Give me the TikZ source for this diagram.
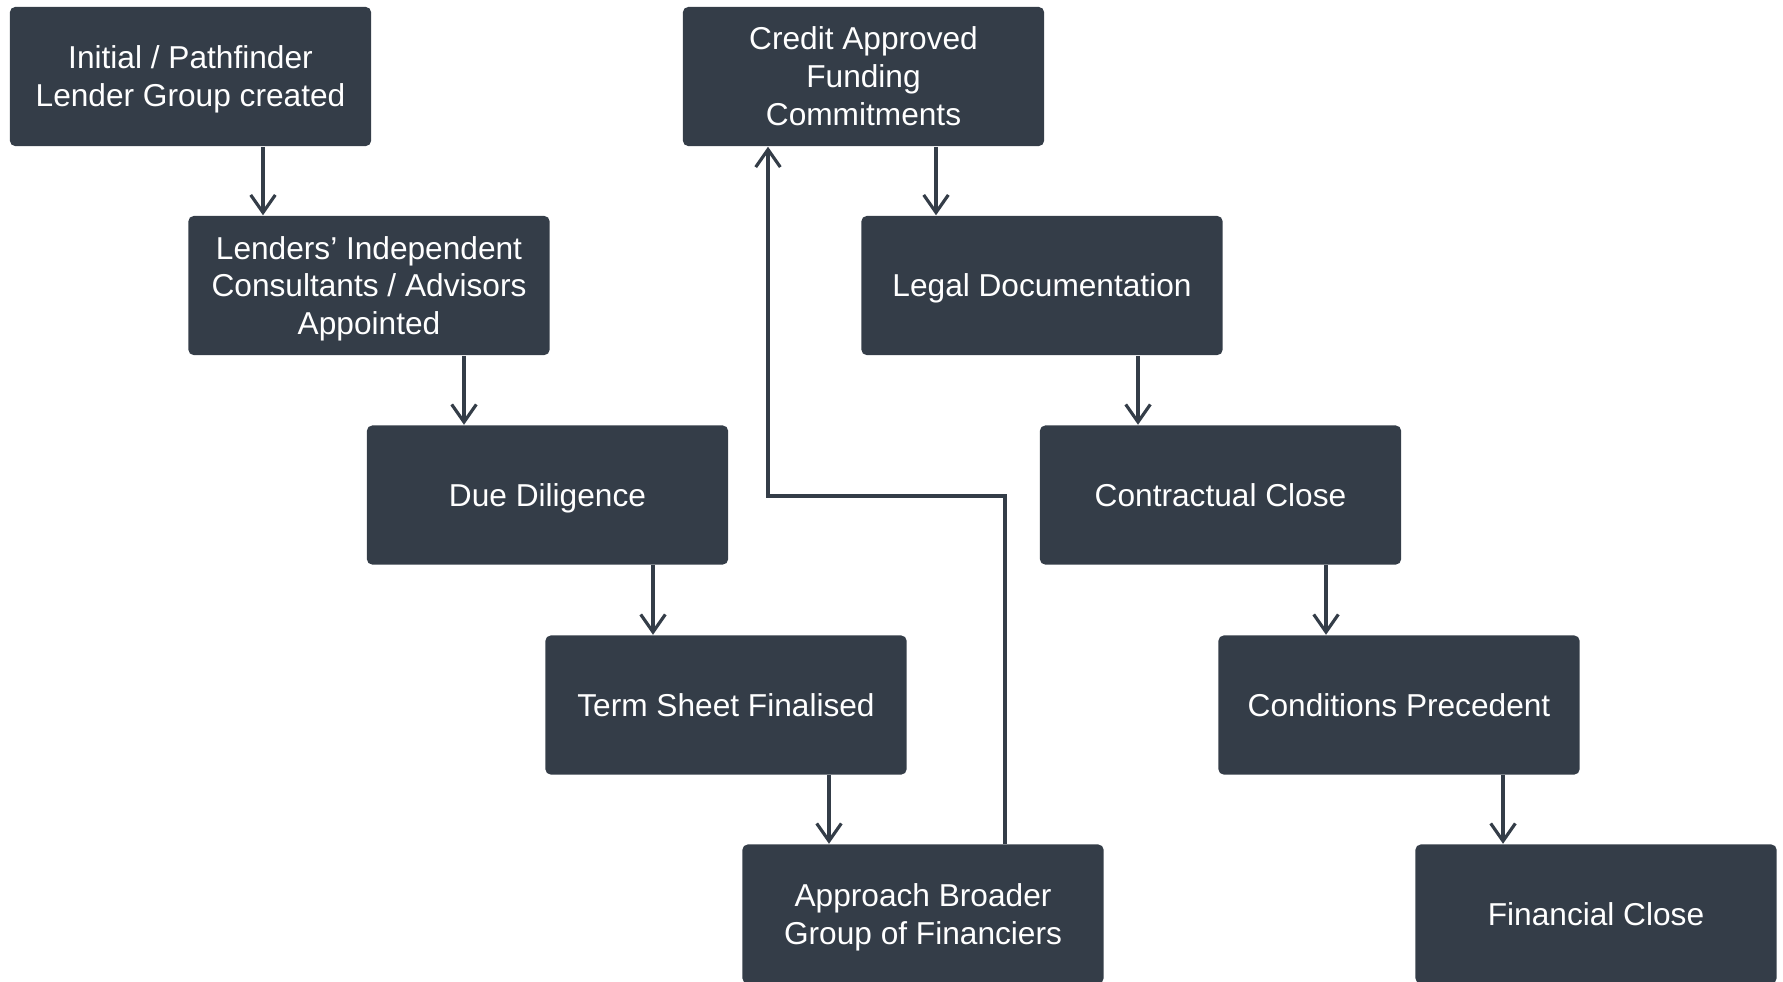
\documentclass[tikz,border=0pt]{standalone}
\usepackage{fontspec}
\setmainfont{Liberation Sans}
\usetikzlibrary{arrows.meta}
\definecolor{step_grey}{RGB}{52, 61, 72}
\tikzstyle{box}=[rectangle,rounded corners=1.5pt,fill=step_grey,text=white,
  align=center,inner sep=0pt,minimum width=3.61cm,minimum height=1.39cm,
  text depth=0pt,font=\fontsize{9}{10.8}\selectfont]
\tikzstyle{arr}=[draw=step_grey,line width=0.9pt,
  -{Straight Barb[length=5pt,width=7pt,line width=0.9pt]}]
\tikzstyle{none}=[]

\begin{document}
\begin{tikzpicture}[x=0.01cm, y=-0.01cm]
    \useasboundingbox (0, 0) rectangle (1783, 981);
    \node [style=box] (0) at (190.5, 76.5) {Initial / Pathfinder\\Lender Group created};
    \node [style=box] (1) at (369, 285.5) {Lenders’ Independent\\Consultants / Advisors\\Appointed};
    \node [style=box] (2) at (547.5, 495) {Due Diligence};
    \node [style=box] (3) at (726, 705) {Term Sheet Finalised};
    \node [style=box] (4) at (923, 914) {Approach Broader\\Group of Financiers};
    \node [style=box] (5) at (863.5, 76.5) {Credit Approved\\Funding\\Commitments};
    \node [style=box] (6) at (1042, 285.5) {Legal Documentation};
    \node [style=box] (7) at (1220.5, 495) {Contractual Close};
    \node [style=box] (8) at (1399, 705) {Conditions Precedent};
    \node [style=box] (9) at (1596, 914) {Financial Close};
    \coordinate (bend) at (768, 496);
    \draw [style=arr] (0.south -| 263,0) to (1.north -| 263,0);
    \draw [style=arr] (1.south -| 464,0) to (2.north -| 464,0);
    \draw [style=arr] (2.south -| 653,0) to (3.north -| 653,0);
    \draw [style=arr] (3.south -| 829,0) to (4.north -| 829,0);
    \draw [style=arr] (4.north -| 1005,0) |- (bend) -- (5.south -| bend);
    \draw [style=arr] (5.south -| 936,0) to (6.north -| 936,0);
    \draw [style=arr] (6.south -| 1138,0) to (7.north -| 1138,0);
    \draw [style=arr] (7.south -| 1326,0) to (8.north -| 1326,0);
    \draw [style=arr] (8.south -| 1503,0) to (9.north -| 1503,0);
\end{tikzpicture}
\end{document}
